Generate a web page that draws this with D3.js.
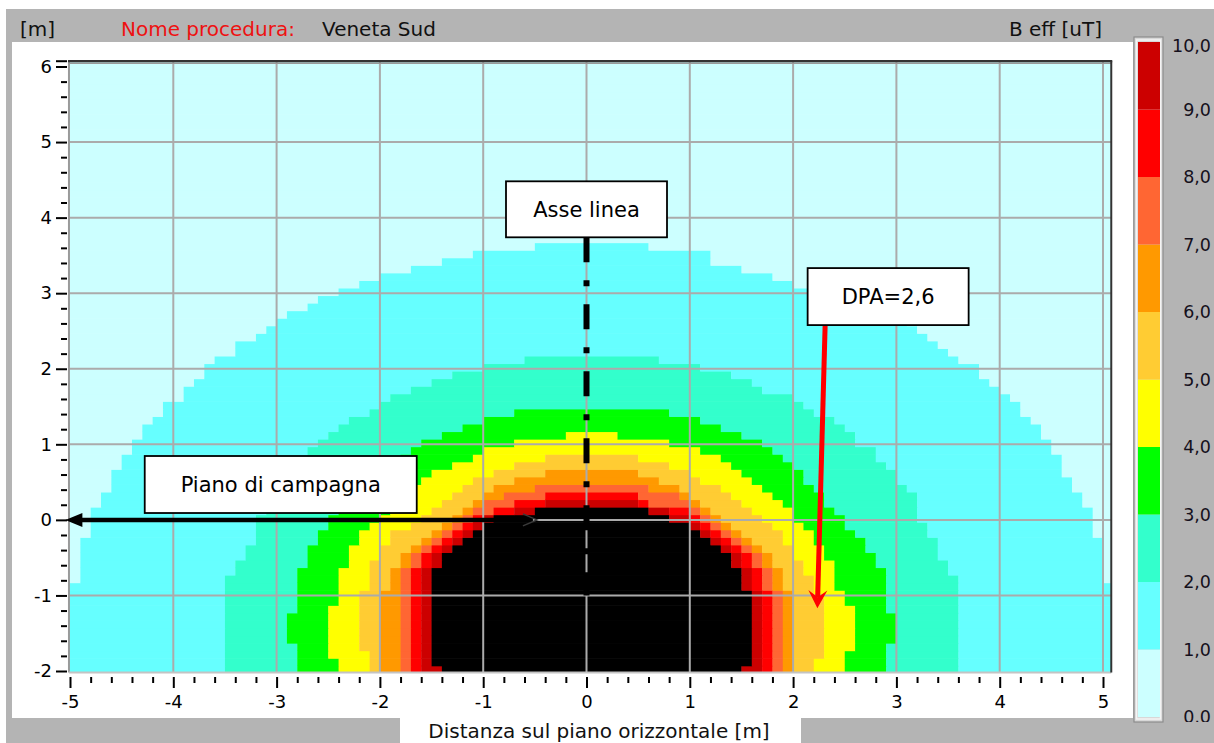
<!DOCTYPE html>
<html><head><meta charset="utf-8">
<script src="https://cdn.jsdelivr.net/npm/d3@7"></script>
<style>
body{margin:0;background:#fff;}
svg{display:block;font-family:"DejaVu Sans",Verdana,sans-serif;}
</style>
</head><body>
<svg id="chart" width="1214" height="743"></svg>
<script>
// ---------------- DATA ----------------
const xTickValues = [-5,-4,-3,-2,-1,0,1,2,3,4,5];
const yTickValues = [-2,-1,0,1,2,3,4,5,6];
const gridX = [-4,-3,-2,-1,0,1,2,3,4,5];
const gridY = [-1,0,1,2,3,4,5];
const levelValues = [0,1,2,3,4,5,6,7,8,9,10];
const levelLabels = ["0,0","1,0","2,0","3,0","4,0","5,0","6,0","7,0","8,0","9,0","10,0"];
const bandColors = ["#CCFFFF","#66FFFF","#33FFCC","#00FF00","#FFFF00","#FFCC33","#FF9900","#FF6633","#FF0000","#CC0000","#000000"];

// Contour boundaries: [x, y of row top], listed top -> bottom
const c1Left  = [[-0.5,3.67],[-1.1,3.57],[-1.41,3.45],[-1.69,3.35],[-1.98,3.25],[-2.2,3.15],[-2.41,3.05],[-2.61,2.95],[-2.71,2.87],[-2.9,2.76],[-2.99,2.65],[-3.1,2.55],[-3.21,2.45],[-3.41,2.35],[-3.62,2.16],[-3.71,2.06],[-3.81,1.86],[-3.91,1.76],[-4.11,1.56],[-4.21,1.36],[-4.3,1.26],[-4.42,1.06],[-4.5,0.88],[-4.6,0.68],[-4.71,0.36],[-4.81,0.18],[-4.92,-0.22],[-5.3,-0.82],[-5.3,-2.3]];
const c1Right = [[0.59,3.67],[1.19,3.57],[1.48,3.37],[1.8,3.25],[2.0,3.15],[2.5,3.05],[2.8,2.87],[3.0,2.76],[3.09,2.65],[3.18,2.55],[3.28,2.46],[3.38,2.35],[3.49,2.26],[3.59,2.16],[3.78,2.06],[3.88,1.86],[3.99,1.76],[4.09,1.66],[4.19,1.56],[4.28,1.36],[4.39,1.26],[4.49,1.06],[4.58,0.88],[4.68,0.57],[4.78,0.36],[4.87,0.18],[4.97,-0.22],[5.3,-0.82],[5.3,-2.3]];
const c2Left  = [[-0.59,2.17],[-0.99,2.07],[-1.3,1.95],[-1.5,1.85],[-1.69,1.75],[-1.9,1.65],[-1.98,1.56],[-2.1,1.47],[-2.31,1.36],[-2.4,1.26],[-2.5,1.16],[-2.61,1.06],[-2.7,0.96],[-2.8,0.8],[-2.89,0.62],[-2.99,0.47],[-3.06,0.36],[-3.2,0.1],[-3.3,-0.3],[-3.41,-0.5],[-3.51,-0.72],[-3.51,-2.3]];
const c2Right = [[0.69,2.17],[1.1,2.07],[1.4,1.94],[1.59,1.85],[1.69,1.75],[1.99,1.66],[2.08,1.57],[2.2,1.46],[2.4,1.35],[2.5,1.24],[2.65,1.13],[2.76,0.97],[2.89,0.8],[2.99,0.68],[3.09,0.5],[3.18,0.36],[3.28,0.0],[3.38,-0.26],[3.49,-0.5],[3.57,-0.72],[3.57,-2.3]];
const c3Left  = [[-0.69,1.47],[-0.99,1.37],[-1.2,1.25],[-1.41,1.15],[-1.62,1.05],[-1.71,0.95],[-1.8,0.85],[-1.9,0.76],[-2.0,0.65],[-2.1,0.55],[-2.2,0.37],[-2.3,0.25],[-2.4,0.15],[-2.5,0.05],[-2.61,-0.13],[-2.71,-0.33],[-2.82,-0.61],[-2.9,-1.23],[-2.82,-1.62],[-2.82,-2.3]];
const c3Right = [[0.79,1.47],[1.1,1.36],[1.28,1.25],[1.48,1.15],[1.69,1.05],[1.79,0.96],[1.9,0.85],[2.0,0.76],[2.09,0.65],[2.19,0.5],[2.29,0.37],[2.38,0.17],[2.5,0.07],[2.59,-0.11],[2.69,-0.23],[2.8,-0.44],[2.9,-0.61],[2.99,-1.23],[2.9,-1.62],[2.9,-2.3]];
const c4Left  = [[-0.18,1.14],[-0.69,1.04],[-0.99,0.97],[-1.1,0.87],[-1.3,0.77],[-1.5,0.66],[-1.62,0.57],[-1.69,0.46],[-1.8,0.37],[-1.9,0.26],[-2.0,0.12],[-2.12,0.0],[-2.21,-0.13],[-2.33,-0.33],[-2.42,-0.61],[-2.5,-1.12],[-2.42,-1.83],[-2.42,-2.3]];
const c4Right = [[0.29,1.14],[0.79,1.05],[1.1,0.96],[1.27,0.85],[1.38,0.76],[1.48,0.65],[1.59,0.54],[1.69,0.46],[1.8,0.37],[1.88,0.26],[2.0,0.17],[2.08,-0.02],[2.19,-0.13],[2.29,-0.33],[2.38,-0.57],[2.5,-0.91],[2.59,-1.13],[2.5,-1.74],[2.5,-2.3]];
const c5Left  = [[-0.4,0.87],[-0.69,0.77],[-0.89,0.66],[-1.1,0.57],[-1.2,0.47],[-1.3,0.37],[-1.4,0.26],[-1.5,0.17],[-1.62,0.08],[-1.71,-0.02],[-1.91,-0.13],[-1.99,-0.33],[-2.1,-0.53],[-2.19,-0.92],[-2.1,-1.73],[-2.1,-2.3]];
const c5Right = [[0.48,0.87],[0.79,0.76],[1.0,0.66],[1.1,0.57],[1.3,0.46],[1.4,0.37],[1.5,0.28],[1.59,0.17],[1.69,0.07],[1.8,-0.04],[1.9,-0.13],[2.0,-0.33],[2.09,-0.52],[2.19,-0.74],[2.29,-1.05],[2.19,-1.83],[2.19,-2.3]];
const c6Left  = [[-0.4,0.66],[-0.69,0.57],[-0.89,0.46],[-1.0,0.37],[-1.1,0.26],[-1.2,0.17],[-1.3,0.08],[-1.4,-0.02],[-1.5,-0.13],[-1.62,-0.24],[-1.71,-0.33],[-1.81,-0.43],[-1.91,-0.61],[-1.97,-0.91],[-1.97,-2.3]];
const c6Right = [[0.48,0.66],[0.69,0.57],[0.9,0.46],[1.0,0.35],[1.1,0.26],[1.19,0.17],[1.29,0.08],[1.38,-0.02],[1.5,-0.13],[1.59,-0.24],[1.69,-0.33],[1.79,-0.43],[1.88,-0.61],[2.0,-0.91],[2.0,-2.3]];
const c7Left  = [[-0.5,0.46],[-0.79,0.37],[-0.99,0.26],[-1.1,0.17],[-1.2,0.08],[-1.3,-0.02],[-1.4,-0.13],[-1.5,-0.24],[-1.62,-0.33],[-1.71,-0.43],[-1.81,-0.61],[-1.81,-2.3]];
const c7Right = [[0.6,0.46],[0.9,0.35],[1.0,0.26],[1.1,0.17],[1.19,0.08],[1.29,-0.02],[1.4,-0.13],[1.5,-0.24],[1.59,-0.33],[1.69,-0.43],[1.79,-0.61],[1.9,-0.91],[1.9,-2.3]];
const c8Left  = [[-0.4,0.37],[-0.69,0.26],[-0.89,0.17],[-1.1,0.08],[-1.2,-0.02],[-1.3,-0.13],[-1.4,-0.24],[-1.5,-0.33],[-1.62,-0.43],[-1.71,-0.61],[-1.71,-2.3]];
const c8Right = [[0.48,0.37],[0.6,0.26],[1.0,0.17],[1.1,0.08],[1.19,-0.02],[1.29,-0.13],[1.38,-0.24],[1.5,-0.33],[1.59,-0.43],[1.69,-0.61],[1.79,-0.91],[1.79,-2.3]];
const c9Left  = [[-0.4,0.26],[-0.69,0.17],[-0.99,0.08],[-1.1,-0.02],[-1.2,-0.13],[-1.3,-0.24],[-1.4,-0.33],[-1.5,-0.43],[-1.62,-0.61],[-1.62,-2.3]];
const c9Right = [[0.48,0.26],[0.79,0.17],[1.0,0.08],[1.1,-0.02],[1.19,-0.13],[1.29,-0.24],[1.38,-0.33],[1.5,-0.43],[1.59,-0.61],[1.69,-0.91],[1.69,-2.3]];
const c10Left = [[-0.5,0.17],[-0.89,0.08],[-1.0,-0.02],[-1.1,-0.13],[-1.2,-0.24],[-1.3,-0.33],[-1.4,-0.43],[-1.5,-0.61],[-1.4,-1.93],[-1.4,-2.3]];
const c10Right= [[0.6,0.17],[0.79,0.08],[1.0,-0.02],[1.1,-0.13],[1.19,-0.24],[1.29,-0.33],[1.38,-0.43],[1.5,-0.61],[1.59,-0.91],[1.5,-1.93],[1.5,-2.3]];

const contourSides = [
  [c1Left,c1Right],[c2Left,c2Right],[c3Left,c3Right],[c4Left,c4Right],[c5Left,c5Right],
  [c6Left,c6Right],[c7Left,c7Right],[c8Left,c8Right],[c9Left,c9Right],[c10Left,c10Right]
];

// annotations (data coordinates)
const annotBoxes = [
  {text:"Asse linea", x:0.0, y:4.11, w:161, h:56},
  {text:"DPA=2,6", x:2.92, y:2.955, w:161, h:57},
  {text:"Piano di campagna", x:-2.96, y:0.468, w:272, h:57}
];
const pianoArrow = {x0:-5.045, x1:-0.48, y:0};
const asseLine = {x:0, y0:3.74, y1:-1.0};
const dpaArrow = {x0:2.31, y0:2.57, x1:2.235, y1:-1.17};

// ---------------- SCALES ----------------
const X_LO=-5.01, X_HI=5.08, Y_LO=-2.02, Y_HI=6.07;
const xs = d3.scaleLinear().domain([-5,5]).range([70,1103]);
const ys = d3.scaleLinear().domain([-2,6]).range([671,66.5]);
const cb = d3.scaleLinear().domain([0,10]).range([717,42]);

const svg = d3.select("#chart");

// ---------------- FRAME ----------------
svg.append("rect").attr("x",6).attr("y",9).attr("width",1208).attr("height",734).attr("fill","#B4B4B4");
svg.append("rect").attr("x",12).attr("y",42).attr("width",1121).attr("height",676).attr("fill","#fff");
svg.append("rect").attr("x",400).attr("y",716).attr("width",401).attr("height",27).attr("fill","#fff");

// header
const hdr = svg.append("g").attr("font-size",20);
hdr.append("text").attr("x",20).attr("y",36).attr("fill","#111").text("[m]");
hdr.append("text").attr("x",121).attr("y",36).attr("fill","#EE1111").text("Nome procedura:");
hdr.append("text").attr("x",322).attr("y",36).attr("fill","#111").text("Veneta Sud");
hdr.append("text").attr("x",1102).attr("y",36).attr("text-anchor","end").attr("fill","#111").text("B eff [uT]");

// ---------------- FIELD CELLS ----------------
function stairs(p){
  const o=[];
  p.forEach((d,i)=>{ o.push(d); if(i<p.length-1) o.push([d[0], p[i+1][1]]); });
  return o;
}
const polygons = contourSides.map(([L,R]) => stairs(L).concat(stairs(R).reverse()));

const defs = svg.append("defs");
defs.append("clipPath").attr("id","plotclip").append("rect")
  .attr("x",xs(X_LO)).attr("y",ys(Y_HI)).attr("width",xs(X_HI)-xs(X_LO)).attr("height",ys(Y_LO)-ys(Y_HI));
defs.append("clipPath").attr("id","cbclip").append("rect")
  .attr("x",1160).attr("y",0).attr("width",60).attr("height",722);

const rowTops = d3.range(-20,61).map(k => +(0.07+0.1*k).toFixed(2));
const colLefts = d3.range(-52,52).map(i => +(0.1*i).toFixed(2));
const runs = [];
rowTops.forEach(top => {
  const yc = top - 0.05;
  let cur = null;
  colLefts.forEach(left => {
    const xc = left + 0.05;
    let lvl = 0;
    for (let k = polygons.length-1; k >= 0; k--) {
      if (d3.polygonContains(polygons[k], [xc, yc])) { lvl = k+1; break; }
    }
    if (cur && cur.lvl === lvl) { cur.x1 = left + 0.1; }
    else { cur = {top, x0:left, x1:left+0.1, lvl}; runs.push(cur); }
  });
});

const field = svg.append("g").attr("clip-path","url(#plotclip)");
field.selectAll("rect").data(runs).join("rect")
  .attr("x", d => xs(d.x0))
  .attr("y", d => ys(d.top))
  .attr("width", d => xs(d.x1) - xs(d.x0) + 0.4)
  .attr("height", d => ys(d.top-0.1) - ys(d.top) + 0.6)
  .attr("fill", d => bandColors[d.lvl]);

// grid
const grid = svg.append("g").attr("clip-path","url(#plotclip)").attr("stroke","#ABABAB").attr("stroke-width",2);
grid.selectAll("line.v").data(gridX).join("line").attr("class","v")
  .attr("x1",d=>xs(d)).attr("x2",d=>xs(d)).attr("y1",ys(Y_HI)).attr("y2",ys(Y_LO));
grid.selectAll("line.h").data(gridY).join("line").attr("class","h")
  .attr("y1",d=>ys(d)).attr("y2",d=>ys(d)).attr("x1",xs(X_LO)).attr("x2",xs(X_HI));

// plot border
const bx0=xs(X_LO), bx1=xs(X_HI), by0=ys(Y_HI), by1=ys(Y_LO);
svg.append("line").attr("x1",bx0).attr("x2",bx0).attr("y1",by0).attr("y2",by1).attr("stroke","#9a9a9a").attr("stroke-width",2);
svg.append("line").attr("x1",bx0).attr("x2",bx1).attr("y1",by1).attr("y2",by1).attr("stroke","#c4c4c4").attr("stroke-width",2);
svg.append("line").attr("x1",bx0).attr("x2",bx1).attr("y1",by0+2).attr("y2",by0+2).attr("stroke","#999").attr("stroke-width",1.5);
svg.append("line").attr("x1",bx0-1).attr("x2",bx1+1).attr("y1",by0).attr("y2",by0).attr("stroke","#333").attr("stroke-width",2.2);
svg.append("line").attr("x1",bx1).attr("x2",bx1).attr("y1",by0).attr("y2",by1).attr("stroke","#333").attr("stroke-width",2);

// ---------------- AXES ----------------
function styleAxis(g){
  g.select(".domain").remove();
  g.selectAll(".tick line").attr("stroke","#000").attr("stroke-width",2);
  g.selectAll(".tick text").attr("fill","#000").attr("font-size",18).attr("font-family","DejaVu Sans, Verdana, sans-serif");
}
const minorX = d3.range(-50,51,2).map(v=>v/10).filter(v=>Math.abs(v-Math.round(v))>1e-6);
const minorY = d3.range(-20,61,2).map(v=>v/10).filter(v=>Math.abs(v-Math.round(v))>1e-6);

svg.append("g").attr("transform","translate(0,677)")
  .call(d3.axisBottom(xs).tickValues(minorX).tickSize(6).tickFormat(""))
  .call(styleAxis);
svg.append("g").attr("transform","translate(0,677)")
  .call(d3.axisBottom(xs).tickValues(xTickValues).tickSize(11).tickPadding(7).tickFormat(d=>String(d)))
  .call(styleAxis);
svg.append("g").attr("transform","translate(67,0)")
  .call(d3.axisLeft(ys).tickValues(minorY).tickSize(6).tickFormat(""))
  .call(styleAxis);
svg.append("g").attr("transform","translate(67,0)")
  .call(d3.axisLeft(ys).tickValues(yTickValues).tickSize(11).tickPadding(4).tickFormat(d=>String(d)))
  .call(styleAxis);
// top double tick
svg.append("line").attr("x1",56).attr("x2",67).attr("y1",ys(Y_HI)).attr("y2",ys(Y_HI)).attr("stroke","#000").attr("stroke-width",2);

svg.append("text").attr("x",599).attr("y",738).attr("text-anchor","middle").attr("font-size",20).attr("fill","#111")
  .text("Distanza sul piano orizzontale [m]");

// ---------------- COLOR BAR ----------------
svg.append("rect").attr("x",1134).attr("y",37).attr("width",29).attr("height",685)
  .attr("fill","#d8d8d8").attr("stroke","#8c8c8c").attr("stroke-width",1.2);
svg.append("rect").attr("x",1136.5).attr("y",40).attr("width",24).attr("height",679)
  .attr("fill","none").attr("stroke","#f4f4f4").attr("stroke-width",1.5);
svg.append("g").selectAll("rect").data(levelValues.slice(0,10)).join("rect")
  .attr("x",1138).attr("width",22)
  .attr("y",d=>cb(d+1)).attr("height",d=>cb(d)-cb(d+1))
  .attr("fill",d=>bandColors[d]);
svg.append("g").attr("clip-path","url(#cbclip)").selectAll("text").data(levelValues).join("text")
  .attr("x",1211).attr("text-anchor","end").attr("font-size",17.5).attr("fill","#15101c")
  .attr("y",d=>Math.min(Math.max(cb(d),46),719)).attr("dy","0.36em")
  .text((d,i)=>levelLabels[i]);

// ---------------- ANNOTATIONS ----------------
// Asse linea dash-dot line
svg.append("line").attr("x1",xs(asseLine.x)).attr("x2",xs(asseLine.x))
  .attr("y1",ys(asseLine.y0)).attr("y2",ys(asseLine.y1))
  .attr("stroke","#000").attr("stroke-width",6).attr("stroke-dasharray","25,18,6,18");

// Piano di campagna double arrow
const py0 = ys(pianoArrow.y), pxa = xs(pianoArrow.x0), pxb = xs(pianoArrow.x1);
svg.append("line").attr("x1",pxa+10).attr("x2",pxb-4).attr("y1",py0).attr("y2",py0)
  .attr("stroke","#000").attr("stroke-width",4.5);
svg.append("path").attr("d",`M${pxa},${py0} L${pxa+17},${py0-7} L${pxa+17},${py0+7} Z`).attr("fill","#000");
svg.append("path").attr("d",`M${pxb-14},${py0-6} L${pxb},${py0} L${pxb-14},${py0+6}`)
  .attr("fill","none").attr("stroke","#3a3a3a").attr("stroke-width",1.5);

// DPA red arrow
{
  const ax0=xs(dpaArrow.x0), ay0=ys(dpaArrow.y0), ax1=xs(dpaArrow.x1), ay1=ys(dpaArrow.y1);
  const dx=ax1-ax0, dy=ay1-ay0, L=Math.hypot(dx,dy), ux=dx/L, uy=dy/L, nx=-uy, ny=ux;
  const hl=18, hw=9.5, notch=11;
  svg.append("line").attr("x1",ax0).attr("y1",ay0).attr("x2",ax1-ux*notch).attr("y2",ay1-uy*notch)
    .attr("stroke","#FF0000").attr("stroke-width",5);
  const bxp=ax1-ux*hl, byp=ay1-uy*hl;
  svg.append("path").attr("fill","#FF0000")
    .attr("d",`M${ax1},${ay1} L${bxp+nx*hw},${byp+ny*hw} L${ax1-ux*notch},${ay1-uy*notch} L${bxp-nx*hw},${byp-ny*hw} Z`);
}

// boxes
const boxes = svg.append("g").selectAll("g").data(annotBoxes).join("g");
boxes.append("rect")
  .attr("x",d=>xs(d.x)-d.w/2).attr("y",d=>ys(d.y)-d.h/2).attr("width",d=>d.w).attr("height",d=>d.h)
  .attr("fill","#fff").attr("stroke","#000").attr("stroke-width",1.8);
boxes.append("text")
  .attr("x",d=>xs(d.x)).attr("y",d=>ys(d.y)).attr("dy","0.36em").attr("text-anchor","middle")
  .attr("font-size",21).attr("fill","#000").text(d=>d.text);
</script>
</body></html>
